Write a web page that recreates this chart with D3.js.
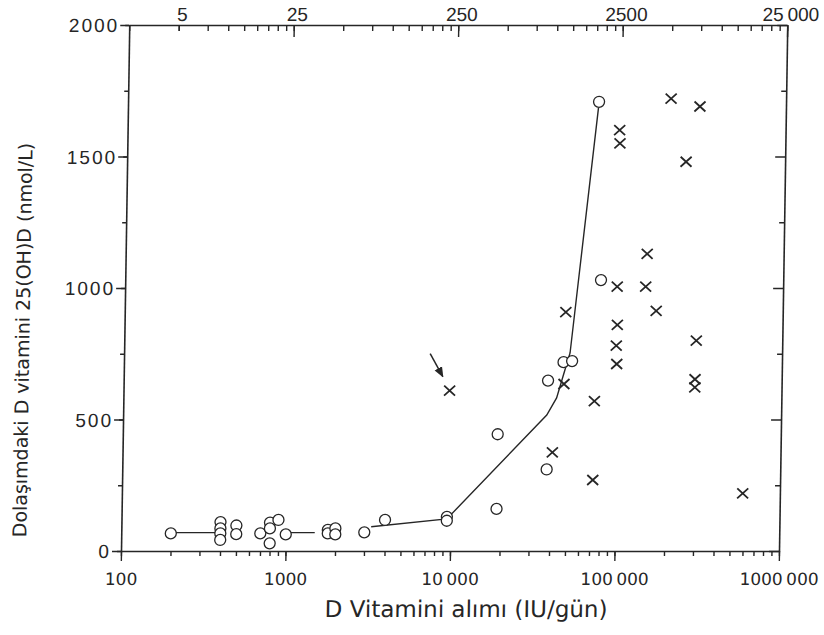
<!DOCTYPE html>
<html>
<head>
<meta charset="utf-8">
<script src="https://cdn.jsdelivr.net/npm/d3@7"></script>
<style>
  body { margin: 0; background: #fff; }
  svg { display: block; }
</style>
</head>
<body>
<svg id="chart" width="824" height="635"></svg>
<script>
// vitamin D intake (IU/day) vs circulating 25(OH)D (nmol/L)
const circleIntake = [200, 400, 400, 400, 400, 500, 500, 700, 800, 800, 800, 900, 1000,
                      1800, 1800, 2000, 2000, 3000, 4000, 9500, 9500, 19000, 19000,
                      38000, 38000, 47000, 53000, 78000, 73000];
const circleLevel  = [67, 110, 86, 67, 42, 97, 64, 67, 108, 86, 29, 118, 63,
                      80, 67, 86, 63, 71, 118, 130, 115, 444, 160,
                      310, 648, 718, 722, 1030, 1708];

const crossIntake = [9600, 41000, 47500, 48000, 73000, 72600, 98000, 98700, 98000, 99000,
                     98000, 99000, 146000, 148000, 170000, 200000, 250000, 300000, 300000,
                     297000, 297000, 594000];
const crossLevel  = [610, 375, 635, 908, 570, 270, 1600, 1550, 1005, 860,
                     781, 711, 1005, 1130, 913, 1720, 1480, 1690, 800,
                     653, 622, 219];

// mean curve, in three pieces (null = gap)
const curveIntake = [200, 400, null, 1000, 1500, null, 3300, 9500, 37600, 43000, 48000, 51400, 72500];
const curveLevel  = [70, 70, null, 70, 70, null, 92, 122, 517, 582, 688, 753, 1685];

const bottomTicks  = [100, 1000, 10000, 100000, 1000000];
const bottomLabels = ["100", "1000", "10\u2009000", "100\u2009000", "1000\u2009000"];
const topTicks     = [200, 1000, 10000, 100000, 1000000];
const topLabels    = ["5", "25", "250", "2500", "25\u2009000"];   // µg/day
const yTicks       = [0, 500, 1000, 1500, 2000];

const ink = "#262626";

var svg = d3.select("#chart");

// plot box
var pLeft = 121, pRight = 779, pTop = 25, pBottom = 551;

// the scanned figure leans a little to the right, so shear the whole drawing
var g = svg.append("g")
    .attr("transform", "translate(0," + pBottom + ") skewX(-0.9) translate(0," + (-pBottom) + ")");

var x = d3.scaleLog().domain([100, 1000000]).range([pLeft, pRight]);
var y = d3.scaleLinear().domain([0, 2000]).range([pBottom, pTop]);

function styleAxis(sel) {
  sel.selectAll("path.domain").attr("stroke", ink).attr("stroke-width", 1.6);
  sel.selectAll(".tick line").attr("stroke", ink).attr("stroke-width", 1.4);
}

// bottom axis: minor ticks, then decades with labels
g.append("g")
    .attr("transform", "translate(0," + pBottom + ")")
    .call(d3.axisBottom(x).tickValues(x.ticks()).tickSize(5).tickSizeOuter(0).tickFormat(""))
    .call(styleAxis);
var bx = g.append("g")
    .attr("transform", "translate(0," + pBottom + ")")
    .call(d3.axisBottom(x).tickValues(bottomTicks).tickSize(10).tickSizeOuter(0)
      .tickFormat((d, i) => bottomLabels[i]))
    .call(styleAxis);
bx.select("path.domain").remove();
bx.selectAll("text")
    .attr("y", 34).attr("dy", 0)
    .attr("font-family", "DejaVu Sans").attr("font-size", 17).attr("fill", ink);

// top axis (µg scale), ticks pointing inwards
g.append("g")
    .attr("transform", "translate(0," + pTop + ")")
    .call(d3.axisTop(x).tickValues(x.ticks()).tickSize(-6).tickSizeOuter(0).tickFormat(""))
    .call(styleAxis);
var tx = g.append("g")
    .attr("transform", "translate(0," + pTop + ")")
    .call(d3.axisTop(x).tickValues(topTicks).tickSize(-6).tickSizeOuter(0)
      .tickFormat((d, i) => topLabels[i]))
    .call(styleAxis);
tx.select("path.domain").remove();
tx.selectAll(".tick line").attr("y2", d => d === 200 ? 6 : 12);
tx.selectAll("text")
    .attr("y", -4).attr("dy", 0).attr("dx", 3)
    .attr("font-family", "Liberation Sans").attr("font-size", 19).attr("fill", ink);

// left axis
g.append("g")
    .attr("transform", "translate(" + pLeft + ",0)")
    .call(d3.axisLeft(y).tickValues(d3.range(0, 2001, 250)).tickSize(4).tickSizeOuter(0).tickFormat(""))
    .call(styleAxis);
var ly = g.append("g")
    .attr("transform", "translate(" + pLeft + ",0)")
    .call(d3.axisLeft(y).tickValues(yTicks).tickSize(9).tickSizeOuter(0).tickFormat(d3.format("d")))
    .call(styleAxis);
ly.select("path.domain").remove();
ly.selectAll("text")
    .attr("x", -10).attr("dy", "0.36em")
    .attr("font-family", "Liberation Sans").attr("font-size", 19)
    .attr("letter-spacing", 2).attr("fill", ink);

// right axis, ticks inwards, no labels
g.append("g")
    .attr("transform", "translate(" + pRight + ",0)")
    .call(d3.axisRight(y).tickValues(d3.range(0, 2001, 250)).tickSize(-5).tickSizeOuter(0).tickFormat(""))
    .call(styleAxis)
    .selectAll(".tick line").attr("x2", d => d % 500 === 0 ? -10 : -5);

// mean curve
var curve = curveIntake.map((v, i) => [v, curveLevel[i]]);
g.append("path")
    .datum(curve)
    .attr("fill", "none")
    .attr("stroke", ink)
    .attr("stroke-width", 1.4)
    .attr("d", d3.line()
      .defined(d => d[0] != null)
      .x(d => x(d[0]))
      .y(d => y(d[1])));

// open circles
g.selectAll("circle.obs")
    .data(circleIntake.map((v, i) => [v, circleLevel[i]]))
    .enter()
    .append("circle")
    .attr("class", "obs")
    .attr("cx", d => x(d[0]))
    .attr("cy", d => y(d[1]))
    .attr("r", 5.5)
    .attr("fill", "#fff")
    .attr("stroke", ink)
    .attr("stroke-width", 1.3);

// crosses
g.selectAll("path.cross")
    .data(crossIntake.map((v, i) => [v, crossLevel[i]]))
    .enter()
    .append("path")
    .attr("class", "cross")
    .attr("transform", d => "translate(" + x(d[0]) + "," + y(d[1]) + ")")
    .attr("d", "M-5.5,-5L5.5,5M-5.5,5L5.5,-5")
    .attr("stroke", ink)
    .attr("stroke-width", 1.8)
    .attr("fill", "none");

// arrow pointing at the highlighted case
svg.append("defs").append("marker")
    .attr("id", "head")
    .attr("viewBox", "0 0 10 10")
    .attr("refX", 9).attr("refY", 5)
    .attr("markerWidth", 7).attr("markerHeight", 7)
    .attr("orient", "auto")
  .append("path")
    .attr("d", "M0,1L10,5L0,9Z")
    .attr("fill", ink);
var ax = x(crossIntake[0]), ay = y(crossLevel[0]);
g.append("line")
    .attr("x1", ax - 20).attr("y1", ay - 37)
    .attr("x2", ax - 7).attr("y2", ay - 14)
    .attr("stroke", ink)
    .attr("stroke-width", 1.5)
    .attr("marker-end", "url(#head)");

// axis titles
g.append("text")
    .attr("x", 467).attr("y", 617)
    .attr("text-anchor", "middle")
    .attr("font-family", "DejaVu Sans").attr("font-size", 23)
    .attr("fill", ink)
    .text("D Vitamini alımı (IU/gün)");
g.append("text")
    .attr("transform", "translate(26,340) rotate(-90)")
    .attr("text-anchor", "middle")
    .attr("font-family", "DejaVu Sans").attr("font-size", 19)
    .attr("fill", ink)
    .text("Dolaşımdaki D vitamini 25(OH)D (nmol/L)");
</script>
</body>
</html>
